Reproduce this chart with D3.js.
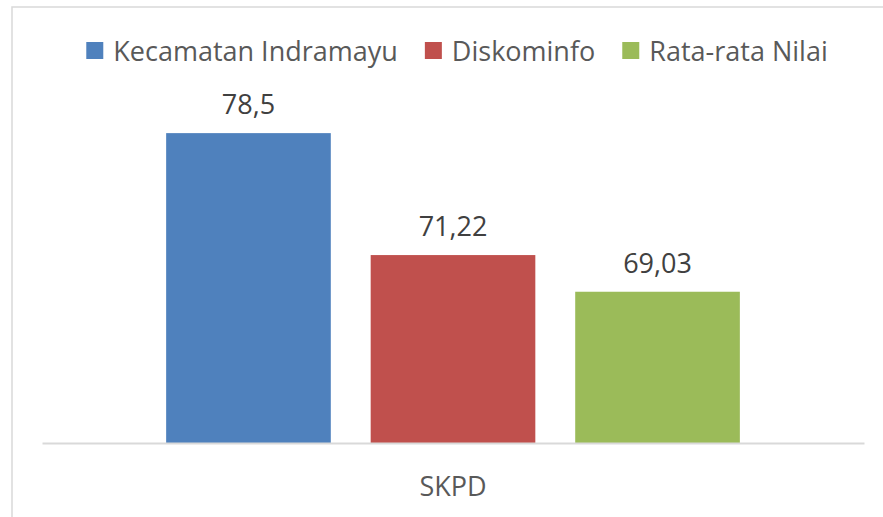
<!DOCTYPE html>
<html>
<head>
<meta charset="utf-8">
<script src="https://cdn.jsdelivr.net/npm/d3@7"></script>
<style>
  body { margin: 0; background: #fff; }
  svg { display: block; font-family: "Open Sans", sans-serif; }
</style>
</head>
<body>
<div id="chart"></div>
<script>
// data
const categories = ["SKPD"];
const series = ["Kecamatan Indramayu", "Diskominfo", "Rata-rata Nilai"];
const values = [78.5, 71.22, 69.03];
const labels = ["78,5", "71,22", "69,03"];
const yDomain = [60, 80];

const width = 883;
const height = 517;
const margin = { top: 108, right: 19, bottom: 74, left: 42 };

const colors = ["#4f81bd", "#c0504d", "#9bbb59"];
const color = d3.scaleOrdinal().domain(series).range(colors);

const svg = d3.select("#chart")
    .append("svg")
    .attr("width", width)
    .attr("height", height);

// chart frame (runs off the page on the right and bottom)
svg.append("rect")
    .attr("x", 12)
    .attr("y", 7)
    .attr("width", width + 20)
    .attr("height", height + 20)
    .attr("fill", "#fff")
    .attr("stroke", "#d9d9d9")
    .attr("stroke-width", 1.5);

// scales
const x0 = d3.scaleBand()
    .domain(categories)
    .range([margin.left, width - margin.right])
    .padding(0);

const x1 = d3.scaleBand()
    .domain(series)
    .range([0, x0.bandwidth()])
    .paddingInner(0.195)
    .paddingOuter(0.607);

const y = d3.scaleLinear()
    .domain(yDomain)
    .range([height - margin.bottom, margin.top]);

const barData = series.map((s, i) => ({ s, v: values[i], label: labels[i] }));

// bars
const group = svg.selectAll(".cat")
    .data(categories)
    .enter()
    .append("g")
    .attr("class", "cat")
    .attr("transform", d => `translate(${x0(d)},0)`);

group.selectAll("rect")
    .data(barData)
    .enter()
    .append("rect")
    .attr("x", d => x1(d.s))
    .attr("y", d => y(d.v))
    .attr("width", x1.bandwidth())
    .attr("height", d => y(yDomain[0]) - y(d.v))
    .attr("fill", d => color(d.s));

// data labels
group.selectAll(".val")
    .data(barData)
    .enter()
    .append("text")
    .attr("class", "val")
    .attr("x", d => x1(d.s) + x1.bandwidth() / 2)
    .attr("y", d => y(d.v) - 19)
    .attr("text-anchor", "middle")
    .style("font-size", "27px")
    .style("fill", "#404040")
    .text(d => d.label);

// x axis
const xAxis = d3.axisBottom(x0).tickSize(0).tickPadding(34);
const gx = svg.append("g")
    .attr("transform", `translate(0,${y(yDomain[0])})`)
    .call(xAxis);
gx.select(".domain")
    .attr("stroke", "#d9d9d9")
    .attr("stroke-width", 2);
gx.selectAll("text")
    .style("font-family", "Open Sans, sans-serif")
    .style("font-size", "27px")
    .style("fill", "#595959");

// legend
const legend = svg.append("g").attr("class", "legend");
const items = legend.selectAll("g")
    .data(series)
    .enter()
    .append("g");

items.append("rect")
    .attr("y", 42)
    .attr("width", 17)
    .attr("height", 17)
    .attr("fill", d => color(d));

items.append("text")
    .attr("x", 27)
    .attr("y", 61)
    .style("font-size", "27px")
    .style("fill", "#595959")
    .text(d => d);

const gap = 27;
items.each(function () {
    const w = d3.select(this).select("text").node().getComputedTextLength();
    d3.select(this).attr("data-w", 27 + w);
});
const total = items.nodes().reduce((a, n) => a + (+n.getAttribute("data-w")), 0) + gap * (series.length - 1);
let offset = 457 - total / 2;
items.attr("transform", function () {
    const t = `translate(${offset},0)`;
    offset += +this.getAttribute("data-w") + gap;
    return t;
});
</script>
</body>
</html>
